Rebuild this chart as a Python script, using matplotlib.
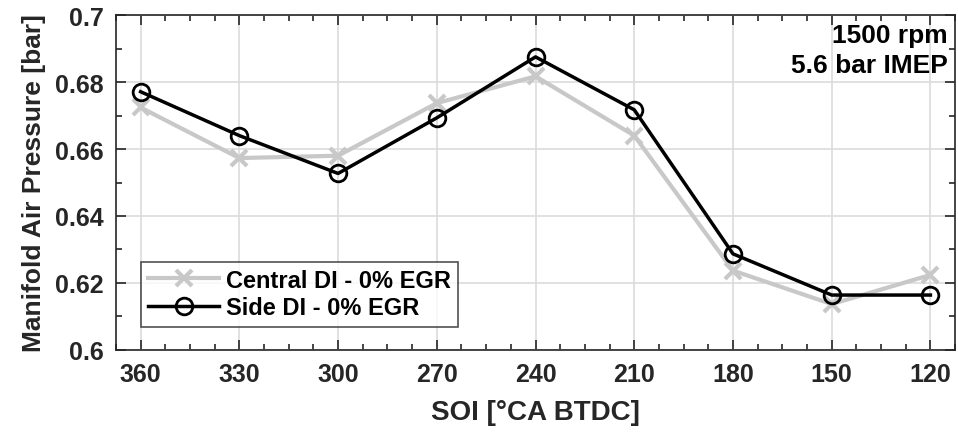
import numpy as np
import matplotlib
matplotlib.use("Agg")
import matplotlib.pyplot as plt
from matplotlib.ticker import MultipleLocator

plt.rcParams['font.family'] = ['Liberation Sans', 'DejaVu Sans']
plt.rcParams['font.weight'] = 'bold'
plt.rcParams['axes.labelweight'] = 'bold'

# data
soi = [360, 330, 300, 270, 240, 210, 180, 150, 120]
central_di = [0.6724, 0.6573, 0.6580, 0.6737, 0.6817, 0.6640, 0.6237, 0.6137, 0.6224]
side_di = [0.6771, 0.6640, 0.6527, 0.6693, 0.6875, 0.6717, 0.6287, 0.6164, 0.6164]
yticks = [0.6, 0.62, 0.64, 0.66, 0.68, 0.7]
ytick_labels = ['0.6', '0.62', '0.64', '0.66', '0.68', '0.7']

dark = '#262626'

fig = plt.figure(figsize=(9.58, 4.39), dpi=100)
ax = fig.add_axes([0.121, 0.2005, 0.876, 0.763])

ax.plot(soi, central_di, color='#c8c8c8', lw=3, marker='x', ms=11, mew=3,
        label='Central DI - 0% EGR')
ax.plot(soi, side_di, color='black', lw=2.5, marker='o', ms=12, mew=2,
        mfc='none', label='Side DI - 0% EGR')

ax.set_xlim(367.5, 112.5)
ax.set_ylim(0.6, 0.7)
ax.xaxis.set_major_locator(MultipleLocator(30))
ax.xaxis.set_minor_locator(MultipleLocator(7.5))
ax.set_yticks(yticks)
ax.set_yticklabels(ytick_labels)
ax.yaxis.set_minor_locator(MultipleLocator(0.01))

ax.grid(True, which='major', color='#dcdcdc', lw=1.2)
ax.set_axisbelow(True)
ax.tick_params(which='both', direction='in', top=True, right=True,
               colors=dark, labelcolor=dark, labelsize=18)
ax.tick_params(which='major', length=7, width=1.2, pad=9)
ax.tick_params(which='minor', length=4, width=1.2)
for s in ax.spines.values():
    s.set_color(dark)
    s.set_linewidth(1.2)

ax.set_xlabel('SOI [°CA BTDC]', fontsize=20, color=dark, labelpad=9)
ax.set_ylabel('Manifold Air Pressure [bar]', fontsize=19, color=dark, labelpad=6)

ax.text(0.991, 0.975, '1500 rpm\n5.6 bar IMEP', transform=ax.transAxes,
        ha='right', va='top', fontsize=19, color='black', linespacing=1.3)

leg = ax.legend(loc='lower left', bbox_to_anchor=(0.03, 0.07), fontsize=17,
                frameon=True, fancybox=False, edgecolor=dark,
                handlelength=3, borderpad=0.3, labelspacing=0.2,
                handletextpad=0.3, borderaxespad=0)
leg.get_frame().set_linewidth(1.2)

fig.savefig('out.png', dpi=100)
